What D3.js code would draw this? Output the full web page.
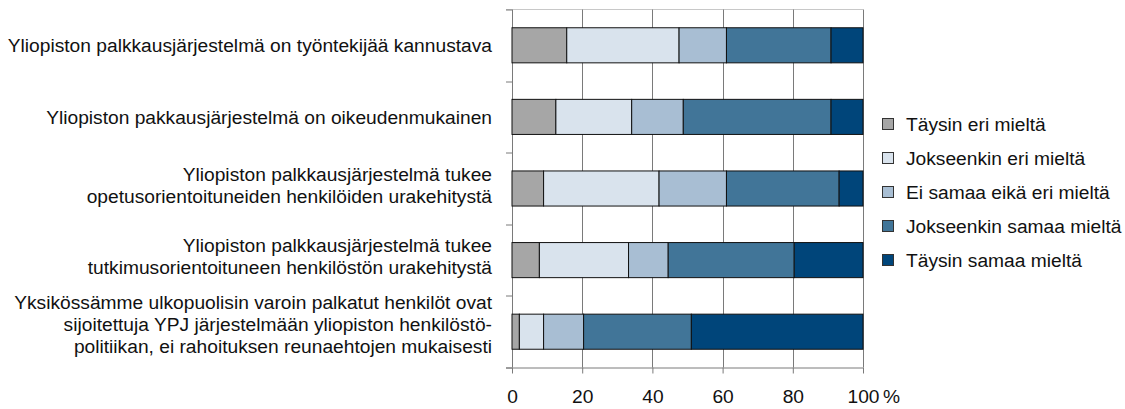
<!DOCTYPE html>
<html>
<head>
<meta charset="utf-8">
<script src="https://cdn.jsdelivr.net/npm/d3@7"></script>
<style>
    body { margin: 0; background: #fff; }
    text { font-family: "Liberation Sans", Arial, Helvetica, sans-serif; fill: #111; }
</style>
</head>
<body>
<div id="wrapper"></div>
<script>
//Data
const categories = ["q1", "q2", "q3", "q4", "q5"];
const categoryLabels = [
    ["Yliopiston palkkausjärjestelmä on työntekijää kannustava"],
    ["Yliopiston pakkausjärjestelmä on oikeudenmukainen"],
    ["Yliopiston palkkausjärjestelmä tukee", "opetusorientoituneiden henkilöiden urakehitystä"],
    ["Yliopiston palkkausjärjestelmä tukee", "tutkimusorientoituneen henkilöstön urakehitystä"],
    ["Yksikössämme ulkopuolisin varoin palkatut henkilöt ovat", "sijoitettuja YPJ järjestelmään yliopiston henkilöstö-", "politiikan, ei rahoituksen reunaehtojen mukaisesti"]
];
const seriesNames = ["Täysin eri mieltä", "Jokseenkin eri mieltä", "Ei samaa eikä eri mieltä", "Jokseenkin samaa mieltä", "Täysin samaa mieltä"];
const taysinEri = [15.6, 12.5, 9.0, 7.8, 2.1];
const jokseenkinEri = [32.0, 21.6, 32.9, 25.4, 6.9];
const eiSamaaEikaEri = [13.5, 14.7, 19.2, 11.3, 11.4];
const jokseenkinSamaa = [29.8, 42.1, 32.1, 35.9, 30.7];
const taysinSamaa = [9.1, 9.1, 6.8, 19.6, 48.9];
const xTicks = [0, 20, 40, 60, 80, 100];
const colors = ["#a6a6a6", "#d9e3ed", "#a8bed3", "#417598", "#00457a"];

//build rows for the stack
const seriesValues = [taysinEri, jokseenkinEri, eiSamaaEikaEri, jokseenkinSamaa, taysinSamaa];
const rows = categories.map((c, i) => {
    const row = {category: c};
    seriesNames.forEach((s, j) => row[s] = seriesValues[j][i]);
    return row;
});

const dimension = {
    width: 1125,
    height: 409,
    margin: {top: 9.5, left: 512, bottom: 41.5, right: 262}
};
dimension.boundedWidth = dimension.width - dimension.margin.left - dimension.margin.right;
dimension.boundedHeight = dimension.height - dimension.margin.top - dimension.margin.bottom;

const fontSize = "19.2px";

const svg = d3.select("#wrapper").append("svg")
    .attr("width", dimension.width)
    .attr("height", dimension.height);

const bounded = svg.append("g")
    .attr("transform", `translate(${dimension.margin.left},${dimension.margin.top})`);

const xScaler = d3.scaleLinear().domain([0, 100]).range([0, dimension.boundedWidth]);
const yScaler = d3.scaleBand().domain(categories)
    .range([0, dimension.boundedHeight])
    .paddingInner(0.51).paddingOuter(0.255);

//top border line
bounded.append("line")
    .attr("x1", -6).attr("x2", dimension.boundedWidth)
    .attr("y1", 0).attr("y2", 0)
    .attr("stroke", "#c8c8c8");

//vertical gridlines
bounded.append("g").selectAll("line")
    .data(xTicks.slice(1))
    .join("line")
    .attr("x1", d => Math.round(xScaler(d)) + 0.5).attr("x2", d => Math.round(xScaler(d)) + 0.5)
    .attr("y1", 0).attr("y2", dimension.boundedHeight)
    .attr("stroke", "#7a7a7a");

//y axis ticks at band boundaries
const boundaries = d3.range(categories.length + 1).map(i => yScaler.range()[0] + i * yScaler.step());
bounded.append("g").selectAll("line")
    .data(boundaries)
    .join("line")
    .attr("x1", -6).attr("x2", 0)
    .attr("y1", d => Math.round(d) + 0.5).attr("y2", d => Math.round(d) + 0.5)
    .attr("stroke", "#7a7a7a");
bounded.append("line")
    .attr("x1", 0.5).attr("x2", 0.5)
    .attr("y1", 0).attr("y2", dimension.boundedHeight)
    .attr("stroke", "#7a7a7a");

//stacked bars
const stacked = d3.stack().keys(seriesNames)(rows);
bounded.append("g").selectAll("g")
    .data(stacked)
    .join("g")
    .attr("fill", (d, i) => colors[i])
    .selectAll("rect")
    .data(d => d)
    .join("rect")
    .attr("x", d => xScaler(d[0]))
    .attr("width", d => xScaler(d[1]) - xScaler(d[0]))
    .attr("y", d => yScaler(d.data.category))
    .attr("height", yScaler.bandwidth())
    .attr("stroke", "#111")
    .attr("stroke-width", 1);

//x axis
const xAxis = bounded.append("g")
    .attr("transform", `translate(0,${dimension.boundedHeight})`)
    .call(d3.axisBottom(xScaler).tickValues(xTicks).tickSize(6).tickSizeOuter(0));
xAxis.select(".domain").attr("stroke", "#7a7a7a").attr("d", `M-6,0.5H${dimension.boundedWidth}`);
xAxis.selectAll(".tick line").attr("stroke", "#7a7a7a");
xAxis.selectAll(".tick text")
    .attr("y", 22)
    .attr("dy", "0.71em")
    .style("font-size", fontSize)
    .style("font-family", "'Liberation Sans', Arial, sans-serif")
    .attr("fill", "#111");
xAxis.append("text")
    .attr("x", xScaler(100) + 20)
    .attr("y", 22)
    .attr("dy", "0.71em")
    .attr("text-anchor", "start")
    .style("font-size", fontSize)
    .attr("fill", "#111")
    .text("%");

//category labels, multi-line blocks sit a little above the band centre
const lineHeight = 22;
const labelGroups = bounded.append("g").selectAll("text")
    .data(categories)
    .join("text")
    .attr("text-anchor", "end")
    .style("font-size", fontSize)
    .attr("transform", (d, i) => {
        const shift = -(categoryLabels[i].length - 1) * 3.5;
        return `translate(-20,${yScaler(d) + yScaler.bandwidth() / 2 + shift})`;
    });
labelGroups.each(function(d, i) {
    const lines = categoryLabels[i];
    d3.select(this).selectAll("tspan")
        .data(lines)
        .join("tspan")
        .attr("x", 0)
        .attr("y", (l, k) => (k - (lines.length - 1) / 2) * lineHeight)
        .attr("dy", "0.35em")
        .text(l => l);
});

//legend
const legend = svg.append("g").attr("transform", "translate(882,124)");
const legendItems = legend.selectAll("g")
    .data(seriesNames)
    .join("g")
    .attr("transform", (d, i) => `translate(0,${i * 34})`);
legendItems.append("rect")
    .attr("x", 0.5).attr("y", -5.5)
    .attr("width", 11).attr("height", 11)
    .attr("fill", (d, i) => colors[i])
    .attr("stroke", "#333");
legendItems.append("text")
    .attr("x", 24)
    .attr("dy", "0.35em")
    .style("font-size", fontSize)
    .text(d => d);
</script>
</body>
</html>
